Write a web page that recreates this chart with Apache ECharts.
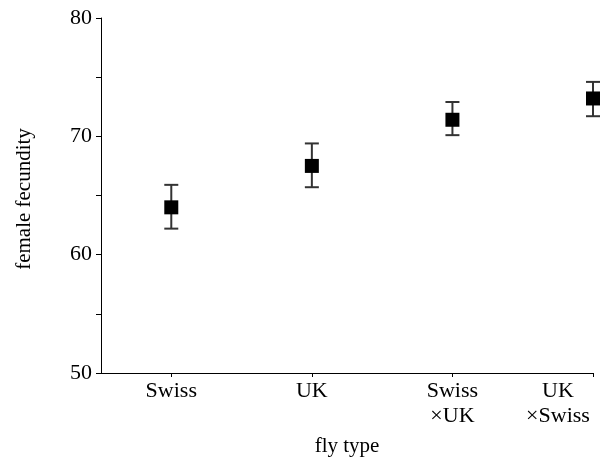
<!DOCTYPE html>
<html><head><meta charset="utf-8">
<script src="https://cdn.jsdelivr.net/npm/echarts@6/dist/echarts.min.js"></script>
<style>html,body{margin:0;padding:0;background:#fff}#c{width:604px;height:465px}</style>
</head><body><div id="c"></div>
<script>
const categories = ['Swiss', 'UK', 'Swiss\n×UK', 'UK\n×Swiss'];
const means = [64.0, 67.5, 71.4, 73.2];
const lower = [62.2, 65.7, 70.1, 71.7];
const upper = [65.9, 69.4, 72.9, 74.6];
const yMin = 50, yMax = 80, yStep = 10;
const xTitle = 'fly type';
const yTitle = 'female fecundity';

const FONT = '"Liberation Serif", "Times New Roman", serif';
const idx = categories.map((_, i) => i);
const pointData = idx.map(i => [i, means[i]]);
const errData = idx.map(i => [i, lower[i], upper[i]]);

const chart = echarts.init(document.getElementById('c'), null, {renderer: 'canvas'});
chart.setOption({
  animation: false,
  backgroundColor: '#fff',
  grid: {left: 101, right: 11, top: 18, bottom: 92, containLabel: false, outerBoundsMode: 'none'},
  xAxis: {
    type: 'value', min: -0.5, max: 3,
    splitLine: {show: false},
    axisLine: {show: true, onZero: false, lineStyle: {color: '#000', width: 1}},
    axisTick: {show: true, length: 4, customValues: idx, lineStyle: {color: '#000'}},
    axisLabel: {
      customValues: idx, margin: 6, color: '#000',
      fontFamily: FONT, fontSize: 22, lineHeight: 25,
      formatter: function (v) {
        const i = Math.round(v);
        const s = categories[i];
        if (i === categories.length - 1) {
          return s.split('\n').map(t => '{r|' + t + '}').join('\n');
        }
        return s;
      },
      rich: {r: {fontFamily: FONT, fontSize: 22, lineHeight: 25, color: '#000', padding: [0, 70, 0, 0]}}
    }
  },
  yAxis: {
    type: 'value', min: yMin, max: yMax, interval: yStep,
    splitLine: {show: false},
    axisLine: {show: true, onZero: false, lineStyle: {color: '#000', width: 1}},
    axisTick: {show: true, length: 5, lineStyle: {color: '#000'}},
    minorTick: {show: true, splitNumber: 2, length: 5, lineStyle: {color: '#000'}},
    minorSplitLine: {show: false},
    axisLabel: {margin: 9, color: '#000', fontFamily: FONT, fontSize: 22}
  },
  graphic: [
    {type: 'text', x: 24, y: 199, rotation: Math.PI / 2,
     style: {text: yTitle, fontFamily: FONT, fontSize: 21, fill: '#000', align: 'center', verticalAlign: 'middle'}},
    {type: 'text', x: 347, y: 446,
     style: {text: xTitle, fontFamily: FONT, fontSize: 21, fill: '#000', align: 'center', verticalAlign: 'middle'}}
  ],
  series: [
    {
      type: 'custom', data: errData, z: 2,
      renderItem: function (params, api) {
        const x = api.value(0);
        const lo = api.coord([x, api.value(1)]);
        const hi = api.coord([x, api.value(2)]);
        const hw = 7;
        const st = {stroke: '#333', lineWidth: 2, fill: null};
        return {type: 'group', children: [
          {type: 'line', shape: {x1: lo[0], y1: lo[1], x2: hi[0], y2: hi[1]}, style: st},
          {type: 'line', shape: {x1: lo[0] - hw, y1: lo[1], x2: lo[0] + hw, y2: lo[1]}, style: st},
          {type: 'line', shape: {x1: hi[0] - hw, y1: hi[1], x2: hi[0] + hw, y2: hi[1]}, style: st}
        ]};
      }
    },
    {
      type: 'scatter', data: pointData, z: 3,
      symbol: 'rect', symbolSize: 14,
      itemStyle: {color: '#000', opacity: 1}
    }
  ]
});
</script></body></html>
